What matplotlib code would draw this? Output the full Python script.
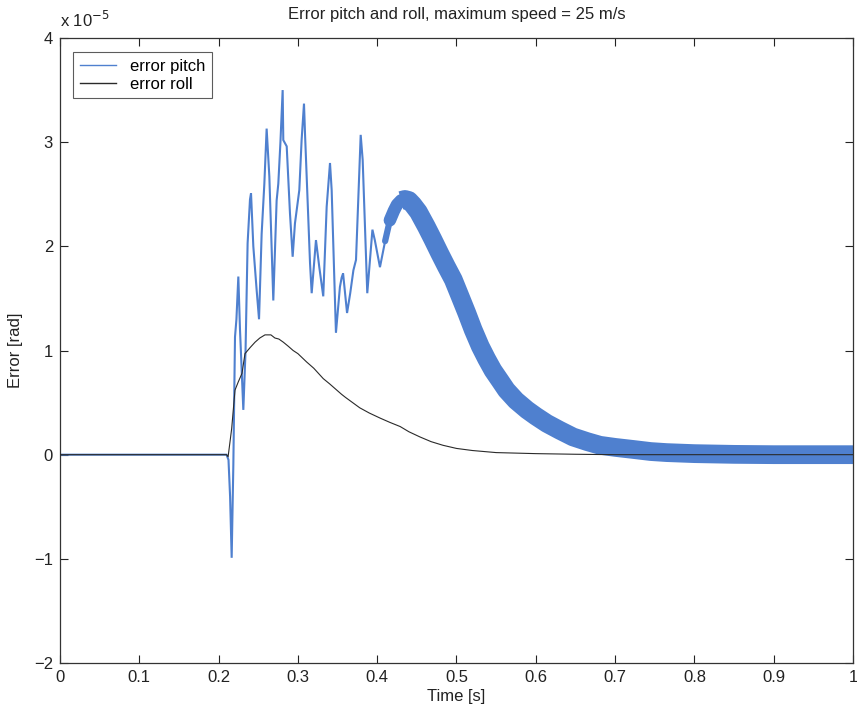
import matplotlib
matplotlib.use("Agg")
import matplotlib.pyplot as plt
import numpy as np

plt.rcParams['font.family'] = ['Liberation Sans', 'DejaVu Sans']

# values in units of 1e-5 rad
pitch_t = [0.0, 0.21, 0.2125, 0.2145, 0.2165, 0.2186, 0.2207, 0.2225, 0.2249, 0.227,
           0.2312, 0.234, 0.2366, 0.2396, 0.2409, 0.2438, 0.248, 0.251, 0.2543, 0.2577,
           0.2606, 0.264, 0.266, 0.269, 0.2732, 0.2753, 0.278, 0.2808, 0.2816, 0.2859,
           0.290, 0.2934, 0.2963, 0.3018, 0.3047, 0.3077, 0.309, 0.3153, 0.3174, 0.3228,
           0.327, 0.332, 0.3363, 0.3405, 0.3426, 0.348, 0.353, 0.3552, 0.357, 0.362,
           0.366, 0.370, 0.3733, 0.3792, 0.3817, 0.3875, 0.394, 0.397, 0.4035, 0.410,
           0.416, 0.421, 0.425, 0.430, 0.435, 0.440, 0.445, 0.452, 0.462, 0.470,
           0.479, 0.487, 0.496, 0.504, 0.513, 0.521, 0.530, 0.538, 0.546, 0.555,
           0.563, 0.575, 0.589, 0.600, 0.614, 0.630, 0.647, 0.665, 0.681, 0.700,
           0.723, 0.745, 0.765, 0.800, 0.850, 0.900, 1.0]
pitch_v = [0.0, 0.0, -0.05, -0.4, -0.99, -0.1, 1.13, 1.3, 1.71, 1.20,
           0.43, 1.0, 2.03, 2.45, 2.51, 2.0, 1.58, 1.30, 2.12, 2.60,
           3.13, 2.67, 2.2, 1.48, 2.44, 2.6, 3.0, 3.50, 3.02, 2.96,
           2.32, 1.90, 2.22, 2.54, 3.02, 3.37, 3.08, 1.84, 1.55, 2.06,
           1.80, 1.52, 2.38, 2.80, 2.54, 1.17, 1.61, 1.70, 1.74, 1.36,
           1.55, 1.77, 1.87, 3.07, 2.83, 1.55, 2.16, 2.06, 1.80, 2.05,
           2.25, 2.34, 2.40, 2.44, 2.45, 2.44, 2.40, 2.33, 2.19, 2.07,
           1.93, 1.81, 1.68, 1.53, 1.36, 1.20, 1.04, 0.92, 0.81, 0.71,
           0.62, 0.52, 0.43, 0.37, 0.30, 0.235, 0.17, 0.125, 0.09, 0.07,
           0.05, 0.03, 0.02, 0.01, 0.003, 0.0, 0.0]

roll_t = [0.0, 0.21, 0.212, 0.2165, 0.2207, 0.2249, 0.2295, 0.2333, 0.240, 0.246,
          0.252, 0.2585, 0.2627, 0.266, 0.271, 0.276, 0.2816, 0.288, 0.294, 0.300,
          0.311, 0.320, 0.332, 0.340, 0.355, 0.360, 0.378, 0.390, 0.404, 0.416,
          0.429, 0.440, 0.454, 0.468, 0.483, 0.500, 0.520, 0.550, 0.600, 0.650,
          0.700, 1.0]
roll_v = [0.0, 0.0, -0.02, 0.25, 0.62, 0.70, 0.78, 0.97, 1.03, 1.08,
          1.12, 1.15, 1.15, 1.15, 1.12, 1.11, 1.08, 1.04, 1.00, 0.97,
          0.89, 0.83, 0.73, 0.68, 0.58, 0.55, 0.45, 0.40, 0.35, 0.31,
          0.27, 0.22, 0.17, 0.125, 0.09, 0.06, 0.04, 0.02, 0.01, 0.004,
          0.0, 0.0]

x_ticks = [0, 0.1, 0.2, 0.3, 0.4, 0.5, 0.6, 0.7, 0.8, 0.9, 1]
x_labels = ['0', '0.1', '0.2', '0.3', '0.4', '0.5', '0.6', '0.7', '0.8', '0.9', '1']
y_ticks = [-2, -1, 0, 1, 2, 3, 4]
y_labels = ['\u22122', '\u22121', '0', '1', '2', '3', '4']

pitch_color = '#4f80cf'
roll_color = '#2a2a2a'

fig = plt.figure(figsize=(8.57, 7.14), dpi=100)
ax = fig.add_axes([0.0700, 0.0714, 0.9253, 0.8754])

pt = np.array(pitch_t)
pv = np.array(pitch_v)
ax.plot(pt, pv, color=pitch_color, lw=1.5, label='error pitch', zorder=2,
        solid_joinstyle='miter')
m1 = pt >= 0.404
ax.plot(pt[m1], pv[m1], color=pitch_color, lw=4.5, solid_capstyle='round',
        solid_joinstyle='round', zorder=2)
m2 = pt >= 0.416
ax.plot(pt[m2], pv[m2], color=pitch_color, lw=9, solid_capstyle='round',
        solid_joinstyle='round', zorder=2)
m3 = pt >= 0.430
ax.plot(pt[m3], pv[m3], color=pitch_color, lw=13.5, solid_capstyle='butt',
        solid_joinstyle='round', zorder=2)
ax.plot(roll_t, roll_v, color=roll_color, lw=0.8, label='error roll', zorder=3)

ax.set_xlim(0, 1)
ax.set_ylim(-2, 4)
ax.set_xticks(x_ticks)
ax.set_xticklabels(x_labels)
ax.set_yticks(y_ticks)
ax.set_yticklabels(y_labels)
ax.tick_params(direction='in', length=6, width=0.8, top=True, right=True,
               labelsize=12, colors='#222222', pad=5)
for s in ax.spines.values():
    s.set_linewidth(0.9)
    s.set_color('#333333')

ax.set_title('Error pitch and roll, maximum speed = 25 m/s', fontsize=12, pad=14,
             color='#222222')
ax.set_xlabel('Time [s]', fontsize=12, labelpad=3, color='#222222')
ax.set_ylabel('Error [rad]', fontsize=12, labelpad=8, color='#222222')
ax.text(0.0, 1.012, r'x 10$^{-5}$', transform=ax.transAxes, fontsize=12,
        ha='left', va='bottom', color='#222222')

leg = ax.legend(loc='upper left', bbox_to_anchor=(0.010, 0.985), fontsize=12,
                frameon=True, fancybox=False, handlelength=2.2, handletextpad=0.8,
                borderpad=0.4, labelspacing=0.15, borderaxespad=0.3)
leg.get_frame().set_edgecolor('#333333')
leg.get_frame().set_linewidth(0.8)
for h in leg.get_lines():
    h.set_linewidth(1.0)

fig.savefig('out.png', dpi=100)
